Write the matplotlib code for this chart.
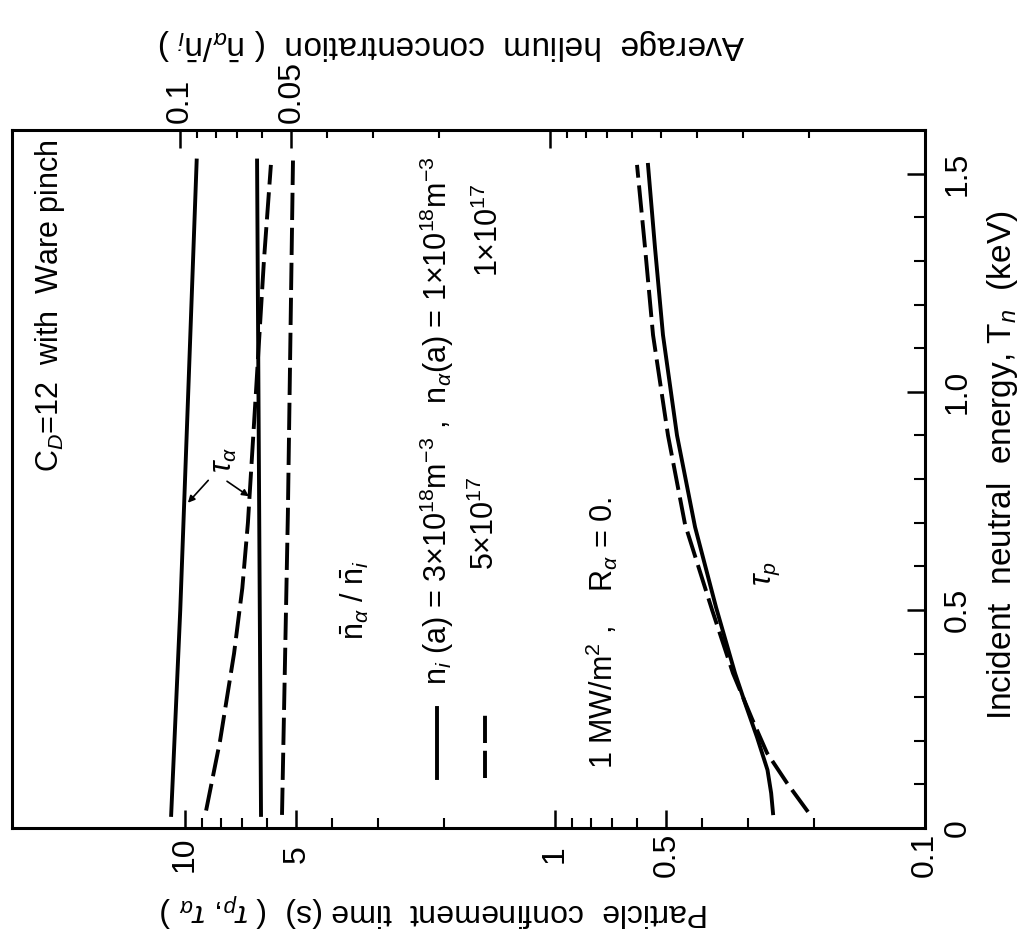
import matplotlib
matplotlib.use("Agg")
import matplotlib.pyplot as plt
from matplotlib import font_manager

# ---------------- data ----------------
# incident neutral energy (keV) and times (s)
e_tau_a_solid = [0.03, 0.5, 1.0, 1.53]
tau_a_solid = [10.9, 10.3, 9.8, 9.3]

e_tau_a_dash = [0.04, 0.2, 0.4, 0.55, 0.7, 1.0, 1.3, 1.52]
tau_a_dash = [8.77, 8.04, 7.37, 7.0, 6.76, 6.43, 6.12, 5.86]

e_tau_p_solid = [0.034, 0.08, 0.133, 0.208, 0.28, 0.355, 0.506, 0.69, 0.9, 1.13, 1.33, 1.52]
tau_p_solid = [0.2575, 0.2605, 0.2665, 0.2844, 0.3046, 0.3262, 0.3671, 0.4183, 0.468, 0.5107, 0.5367, 0.5606]

e_tau_p_dash = [0.037, 0.103, 0.172, 0.25, 0.355, 0.5, 0.696, 0.9, 1.13, 1.33, 1.52]
tau_p_dash = [0.2071, 0.236, 0.2673, 0.2934, 0.3304, 0.3763, 0.4452, 0.495, 0.5433, 0.571, 0.6003]

# average helium concentration n_a/n_i
e_conc_solid = [0.03, 1.53]
conc_solid = [0.0604, 0.0619]

e_conc_dash = [0.03, 0.72, 1.53]
conc_dash = [0.0530, 0.0511, 0.0495]

time_ticks = [0.1, 0.5, 1, 5, 10]
time_labels = ["0.1", "0.5", "1", "5", "10"]
time_minor = [0.2, 0.3, 0.4, 0.6, 0.7, 0.8, 0.9, 2, 3, 4, 6, 7, 8, 9]
conc_ticks = [0.1, 0.05, 0.01]
conc_labels = ["0.1", "0.05", ""]
conc_minor = [0.09, 0.08, 0.07, 0.06, 0.04, 0.03, 0.02,
              0.009, 0.008, 0.007, 0.006, 0.005, 0.004, 0.003, 0.002]
energy_ticks = [0, 0.5, 1.0, 1.5]
energy_labels = ["0", "0.5", "1.0", "1.5"]
energy_minor = [0.1, 0.2, 0.3, 0.4, 0.6, 0.7, 0.8, 0.9, 1.1, 1.2, 1.3, 1.4]

# ---------------- fonts ----------------
nombres = {f.name for f in font_manager.fontManager.ttflist}
fuente = "Liberation Sans Narrow" if "Liberation Sans Narrow" in nombres else "Liberation Sans"
plt.rcParams["font.family"] = [fuente, "DejaVu Sans"]
plt.rcParams["mathtext.fontset"] = "custom"
plt.rcParams["mathtext.rm"] = fuente
plt.rcParams["mathtext.it"] = fuente + ":italic"
plt.rcParams["mathtext.bf"] = fuente + ":bold"

W, H = 1024, 932
fig = plt.figure(figsize=(W / 100, H / 100), dpi=100)
# frame in pixels: left 12, right 925, top 130, bottom 828
ax = fig.add_axes([12 / W, 1 - 828 / H, (925 - 12) / W, (828 - 130) / H])

lw = 2.8
dash = (0, (7, 2))

# figure is drawn rotated: horizontal = time (log, reversed), vertical = energy
ax.plot(tau_a_solid, e_tau_a_solid, color="black", lw=lw)
ax.plot(tau_a_dash, e_tau_a_dash, color="black", lw=lw, linestyle=dash)
ax.plot(tau_p_solid, e_tau_p_solid, color="black", lw=lw)
ax.plot(tau_p_dash, e_tau_p_dash, color="black", lw=lw, linestyle=dash)

ax.set_xscale("log")
ax.set_xlim(29.35, 0.1)
ax.set_ylim(0, 1.6)

ax.set_xticks(time_ticks)
ax.set_xticklabels(time_labels)
ax.set_xticks(time_minor, minor=True)
ax.tick_params(axis="x", which="both", direction="in", top=False, bottom=True)
ax.tick_params(axis="x", which="major", length=13, width=1.8, pad=19, labelsize=23)
ax.tick_params(axis="x", which="minor", length=7, width=1.5)
plt.setp(ax.get_xticklabels(), rotation=90, va="center", ha="center")

ax.yaxis.tick_right()
ax.set_yticks(energy_ticks)
ax.set_yticklabels(energy_labels)
ax.set_yticks(energy_minor, minor=True)
ax.tick_params(axis="y", which="both", direction="in", left=False, right=True)
ax.tick_params(axis="y", which="major", length=13, width=1.8, pad=13, labelsize=23)
ax.tick_params(axis="y", which="minor", length=8, width=1.5)
plt.setp(ax.get_yticklabels(), rotation=90, va="center", ha="left")

for s in ax.spines.values():
    s.set_linewidth(2.2)

# top axis: helium concentration
ax2 = ax.twiny()
ax2.plot(conc_solid, e_conc_solid, color="black", lw=lw)
ax2.plot(conc_dash, e_conc_dash, color="black", lw=lw, linestyle=dash)
ax2.set_xscale("log")
ax2.set_xlim(0.2845, 0.000969)
ax2.set_xticks(conc_ticks)
ax2.set_xticklabels(conc_labels)
ax2.set_xticks(conc_minor, minor=True)
ax2.xaxis.set_minor_formatter(plt.NullFormatter())
ax2.tick_params(axis="x", which="both", direction="in")
ax2.tick_params(axis="x", which="major", length=13, width=1.8, pad=5, labelsize=23)
ax2.tick_params(axis="x", which="minor", length=6, width=1.5)
plt.setp(ax2.get_xticklabels(), rotation=90, va="bottom", ha="center")
ax2.set_ylim(0, 1.6)

# ---------------- texts (rotated) ----------------
tt = dict(rotation=90, transform=ax.transAxes, fontsize=22, ha="center", va="bottom")
ax.text(0.042, 0.51, r"C$_D$=12  with  Ware pinch", **tt)
ax.text(0.4655, 0.205, r"n$_i$ (a) = 3$\times$10$^{18}$m$^{-3}$ ,  n$_\alpha$(a) = 1$\times$10$^{18}$m$^{-3}$", **tt)
ax.text(0.518, 0.37, r"5$\times$10$^{17}$", **tt)
ax.text(0.523, 0.79, r"1$\times$10$^{17}$", **tt)
ax.text(0.646, 0.085, r"1 MW/m$^2$ ,    R$_\alpha$ = 0.", **tt)
ax.text(0.376, 0.269, r"$\bar{\rm n}_\alpha$ / $\bar{\rm n}_i$", **tt)
ax.text(0.827, 0.365, r"$\tau_p$", rotation=90, transform=ax.transAxes,
        fontsize=22, ha="center", va="center")

# tau_a label with two pointers
ax.annotate("", xy=(0.1906, 0.463), xycoords="axes fraction",
            xytext=(0.217, 0.501), arrowprops=dict(arrowstyle="-|>", lw=1.2, color="black"))
ax.annotate("", xy=(0.262, 0.473), xycoords="axes fraction",
            xytext=(0.233, 0.499), arrowprops=dict(arrowstyle="-|>", lw=1.2, color="black"))
ax.text(0.232, 0.527, r"$\tau_\alpha$", rotation=90, transform=ax.transAxes,
        fontsize=22, ha="center", va="center")

# legend marks
ax.plot([0.4655, 0.4655], [0.072, 0.172], transform=ax.transAxes, color="black", lw=lw)
ax.plot([0.518, 0.518], [0.072, 0.172], transform=ax.transAxes, color="black", lw=lw, linestyle=dash)

# axis titles
fig.text(435 / W, 1 - 910 / H, r"Particle  confinement  time (s)  ( $\tau_p$, $\tau_\alpha$ )",
         rotation=180, ha="center", va="center", fontsize=23)
fig.text(452 / W, 1 - 44 / H, r"Average  helium  concentration  ( $\bar{\rm n}_\alpha$/$\bar{\rm n}_i$ )",
         rotation=180, ha="center", va="center", fontsize=24)
fig.text(1003 / W, 1 - 465 / H, r"Incident  neutral  energy, T$_n$  (keV)",
         rotation=90, ha="center", va="center", fontsize=24)

fig.savefig("out.png", dpi=100)
